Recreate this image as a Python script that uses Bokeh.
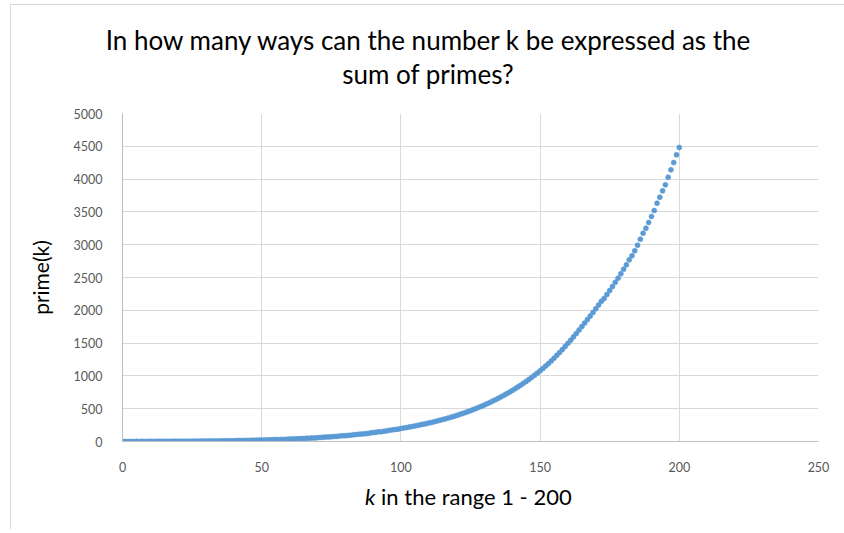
from bokeh.plotting import figure
from bokeh.models import FixedTicker, ColumnDataSource, Div
from bokeh.layouts import column
from bokeh.embed import file_html
from bokeh.resources import INLINE

title_lines = ["In how many ways can the number k be expressed as the", "sum of primes?"]
y_label = "prime(k)"
x_label_k = "k"
x_label_rest = " in the range 1 - 200"
x_ticks = [0, 50, 100, 150, 200, 250]
y_ticks = [0, 500, 1000, 1500, 2000, 2500, 3000, 3500, 4000, 4500, 5000]

k = list(range(0, 201))
ways = [
    1, 0, 1, 1, 0, 2, 0, 2, 1, 1,
    2, 1, 2, 2, 2, 2, 3, 2, 4, 3,
    4, 4, 4, 5, 5, 5, 6, 5, 6, 7,
    6, 9, 7, 9, 9, 9, 11, 11, 11, 13,
    12, 14, 15, 15, 17, 16, 18, 19, 20, 21,
    23, 22, 25, 26, 27, 30, 29, 32, 32, 35,
    37, 39, 40, 42, 44, 45, 50, 50, 53, 55,
    57, 61, 64, 67, 70, 71, 76, 78, 83, 87,
    89, 93, 96, 102, 106, 111, 114, 119, 122, 130,
    136, 140, 147, 150, 156, 164, 170, 178, 183, 188,
    198, 205, 212, 220, 229, 236, 245, 255, 263, 272,
    282, 291, 302, 312, 323, 334, 346, 358, 371, 383,
    397, 410, 425, 439, 455, 470, 487, 503, 521, 538,
    557, 576, 596, 616, 637, 659, 681, 704, 728, 752,
    778, 804, 831, 858, 887, 916, 947, 978, 1010, 1043,
    1077, 1113, 1150, 1189, 1229, 1270, 1313, 1357, 1402, 1448,
    1496, 1545, 1595, 1647, 1700, 1752, 1805, 1858, 1912, 1967,
    2023, 2080, 2138, 2180, 2240, 2301, 2363, 2426, 2490, 2556,
    2627, 2693, 2770, 2831, 2907, 2993, 3084, 3176, 3252, 3338,
    3430, 3521, 3633, 3724, 3821, 3913, 4029, 4141, 4253, 4370,
    4482,
]

src = ColumnDataSource(data=dict(k=k, ways=ways))

FONT = "Lato"
GREY = "#595959"

title_div = Div(
    text=(f'<div style="width:834px;text-align:center;font-family:Lato;font-size:26px;'
          f'line-height:34px;color:#000;padding-top:18px;">'
          f'{title_lines[0]}<br>{title_lines[1]}</div>'),
    width=834, height=96, margin=0)

p = figure(width=834, height=373, x_range=(0, 250), y_range=(0, 5000),
           output_backend="svg", toolbar_location=None,
           min_border_left=111, min_border_right=27, min_border_top=12, min_border_bottom=30)
p.outline_line_color = None
p.background_fill_color = "white"
p.border_fill_color = "white"

p.scatter("k", "ways", source=src, size=5, fill_color="#5b9bd5", line_color="#5b9bd5", line_alpha=0.6)

for ax in (p.xaxis[0], p.yaxis[0]):
    ax.axis_line_color = "#bfbfbf"
    ax.major_tick_line_color = None
    ax.minor_tick_line_color = None
    ax.major_label_text_font = FONT
    ax.major_label_text_font_size = "12.5px"
    ax.major_label_text_color = GREY

p.xaxis.ticker = FixedTicker(ticks=x_ticks)
p.yaxis.ticker = FixedTicker(ticks=y_ticks)
p.xaxis.major_label_standoff = 14
p.yaxis.major_label_standoff = 14

p.yaxis.axis_label = y_label
p.yaxis.axis_label_text_font = FONT
p.yaxis.axis_label_text_font_size = "21px"
p.yaxis.axis_label_text_font_style = "normal"
p.yaxis.axis_label_text_color = "#000000"
p.yaxis.axis_label_standoff = 18

p.xgrid.ticker = FixedTicker(ticks=x_ticks)
p.ygrid.ticker = FixedTicker(ticks=y_ticks)
p.xgrid.grid_line_color = "#d9d9d9"
p.ygrid.grid_line_color = "#d9d9d9"

xlabel_div = Div(
    text=(f'<div style="padding-left:354px;padding-top:10px;font-family:Lato;font-size:22px;'
          f'line-height:26px;color:#000;white-space:pre;"><i>{x_label_k}</i>{x_label_rest}</div>'),
    width=834, height=55, margin=0)

layout = column(title_div, p, xlabel_div, spacing=0)
layout.styles = {"margin-left": "10px", "margin-top": "4px",
                 "border-top": "1px solid #d9d9d9", "border-left": "1px solid #d9d9d9",
                 "background-color": "white"}

open("out.html", "w").write(file_html(layout, INLINE))
